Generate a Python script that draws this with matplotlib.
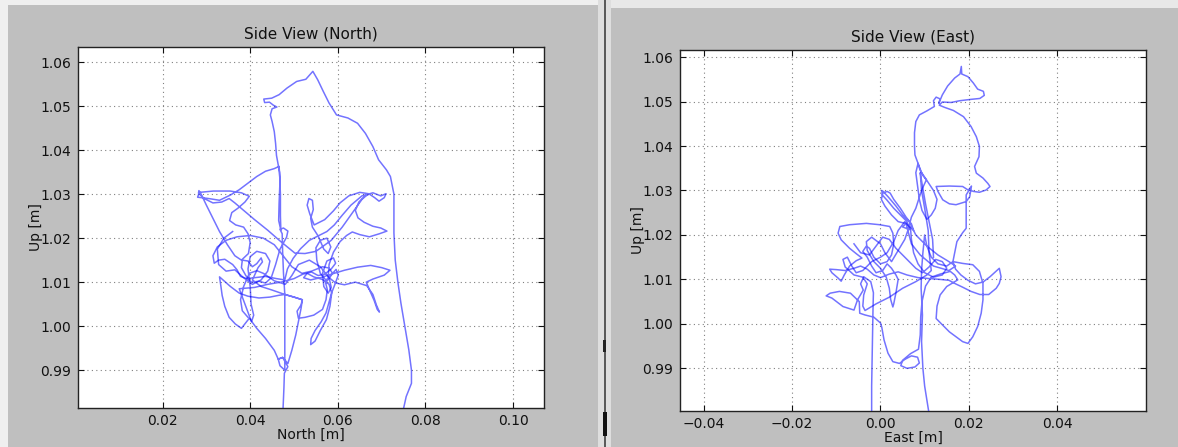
import matplotlib
matplotlib.use("Agg")
import matplotlib.pyplot as plt
from matplotlib.patches import Rectangle

# ---------------- data (millimetres) ----------------
north_mm = [
    47.5, 47.7, 47.8, 48.6, 47.4, 46.4, 46.8, 47.9, 47.9, 47.9,
    46.5, 44.5, 42.0, 39.5, 37.5, 35.5, 33.8, 33.0, 33.3, 33.6,
    34.2, 35.2, 36.6, 38.0, 39.0, 39.8, 41.5, 43.5, 45.5, 46.4,
    47.4, 48.6, 49.5, 50.4, 51.0, 51.6, 51.9, 50.0, 47.9, 47.6,
    47.4, 47.3, 46.8, 47.6, 48.6, 48.3, 46.8, 45.8, 44.8, 43.5,
    42.0, 40.2, 39.0, 38.0, 38.2, 39.5, 40.5, 41.5, 42.5, 42.8,
    41.8, 40.5, 42.5, 45.0, 47.9, 50.0, 51.9, 51.6, 50.7, 51.0,
    52.5, 54.5, 56.5, 57.3, 57.6, 57.1, 58.3, 59.6, 60.1, 59.3,
    58.6, 58.0, 57.3, 56.2, 54.8, 53.9, 53.8, 54.8, 56.0, 57.4,
    58.2, 58.6, 58.0, 56.5, 54.5, 53.0, 52.2, 53.8, 56.0, 58.5,
    61.5, 64.5, 67.5, 70.0, 71.9, 70.6, 68.0, 66.5, 67.2, 68.3,
    69.0, 69.5, 68.8, 68.0, 66.6, 64.0, 61.5, 59.5, 57.8, 58.0,
    59.0, 60.5, 62.0, 63.3, 65.0, 67.2, 69.5, 71.2, 69.8, 68.0,
    66.0, 64.6, 64.0, 64.8, 66.2, 67.2, 68.4, 69.4, 70.6, 71.0,
    69.8, 68.0, 65.5, 63.0, 61.0, 59.2, 57.5, 55.5, 53.5, 51.5,
    49.8, 48.5, 47.9, 46.0, 43.5, 41.0, 39.2, 37.8, 37.0, 36.0,
    34.2, 32.8, 31.8, 31.5, 32.5, 34.5, 37.0, 40.0, 43.0, 45.5,
    47.5, 49.5, 51.8, 54.0, 56.5, 58.0, 58.8, 57.5, 56.0, 55.2,
    55.0, 56.0, 57.5, 58.4, 57.8, 56.8, 55.5, 54.2, 53.8, 54.4,
    54.2, 53.4, 53.0, 53.6, 54.6, 57.0, 59.0, 60.5, 62.5, 65.0,
    67.0, 65.5, 63.5, 61.0, 58.5, 55.0, 52.5, 50.2, 47.0, 44.0,
    41.0, 38.5, 36.5, 35.2, 33.5, 31.5, 29.5, 28.2, 28.3, 28.8,
    30.0, 31.5, 33.0, 34.8, 36.5, 38.0, 39.6, 40.0, 39.5, 38.5,
    36.7, 35.3, 35.8, 37.2, 38.8, 39.8, 38.0, 35.4, 31.6, 28.4,
    28.0, 30.5, 33.0, 35.5, 37.5, 39.5, 41.5, 43.5, 45.5, 46.6,
    46.8, 46.6, 46.5, 47.0, 46.9, 46.9, 46.7, 46.0, 45.8, 45.5,
    45.0, 44.6, 45.0, 46.1, 45.3, 44.4, 43.3, 43.1, 44.9, 46.6,
    48.4, 50.6, 52.7, 53.6, 54.3, 55.4, 56.7, 58.0, 59.7, 62.3,
    64.5, 66.3, 68.0, 69.3, 71.1, 72.0, 72.8, 72.8, 72.8, 73.1,
    73.7, 74.4, 75.3, 76.2, 76.8, 76.8, 75.6, 75.0,
]
north_up_mm = [
    981.3, 986.0, 989.3, 990.8, 992.9, 992.5, 991.0, 990.0, 998.0, 1007.2,
    1007.0, 1006.6, 1006.4, 1006.8, 1007.5, 1009.0, 1010.5, 1011.2, 1009.2, 1007.0,
    1004.5, 1002.0, 1000.5, 999.5, 1000.8, 1001.8, 999.5, 997.2, 994.5, 992.5,
    992.9, 991.5, 994.5, 998.0, 1001.0, 1004.0, 1006.0, 1006.6, 1007.2, 1012.0,
    1017.0, 1021.0, 1022.0, 1022.3, 1021.6, 1020.2, 1017.5, 1014.0, 1011.0, 1009.8,
    1010.2, 1010.0, 1011.5, 1013.3, 1015.0, 1014.8, 1013.5, 1014.2, 1015.5, 1014.6,
    1013.3, 1010.5, 1009.0, 1008.2, 1007.2, 1006.6, 1006.0, 1004.8, 1003.4, 1001.8,
    1002.0, 1002.5, 1003.8, 1006.0, 1008.3, 1010.3, 1011.4, 1012.9, 1011.6, 1009.4,
    1007.6, 1005.5, 1003.0, 1001.0, 999.0, 997.2, 995.8, 996.6, 999.0, 1001.5,
    1004.5, 1007.5, 1009.5, 1010.6, 1011.2, 1012.0, 1011.0, 1010.5, 1011.0, 1011.8,
    1012.7, 1013.4, 1013.8, 1013.3, 1012.7, 1011.6, 1010.7, 1010.0, 1008.3, 1005.8,
    1003.8, 1003.2, 1004.8, 1007.2, 1009.2, 1010.0, 1009.4, 1009.8, 1011.2, 1014.0,
    1016.8, 1019.2, 1020.6, 1021.4, 1020.8, 1020.3, 1021.0, 1021.6, 1022.3, 1022.7,
    1023.6, 1024.6, 1026.3, 1028.2, 1029.6, 1030.0, 1029.2, 1028.4, 1029.2, 1030.1,
    1029.6, 1030.3, 1029.6, 1027.5, 1025.2, 1023.0, 1021.5, 1020.5, 1019.5, 1017.6,
    1015.4, 1013.0, 1010.5, 1010.8, 1011.3, 1011.0, 1010.8, 1011.3, 1012.8, 1014.0,
    1015.2, 1015.0, 1014.3, 1016.0, 1018.0, 1019.5, 1020.3, 1020.6, 1020.0, 1018.5,
    1016.0, 1013.5, 1012.0, 1012.5, 1013.5, 1013.2, 1012.0, 1010.2, 1012.0, 1015.0,
    1017.8, 1019.5, 1020.0, 1018.0, 1016.5, 1017.5, 1020.5, 1022.5, 1024.5, 1026.5,
    1028.6, 1029.0, 1027.5, 1025.5, 1023.0, 1024.2, 1026.2, 1028.0, 1029.6, 1030.4,
    1030.1, 1028.8, 1026.0, 1022.5, 1019.5, 1017.0, 1016.5, 1016.6, 1019.2, 1021.8,
    1024.2, 1026.3, 1028.0, 1029.0, 1028.2, 1028.0, 1029.0, 1030.2, 1030.8, 1030.0,
    1027.5, 1024.5, 1021.5, 1018.5, 1016.0, 1015.0, 1016.5, 1019.0, 1021.0, 1022.5,
    1023.0, 1024.0, 1025.8, 1026.8, 1028.2, 1029.5, 1030.3, 1030.7, 1030.7, 1030.4,
    1029.3, 1029.0, 1028.6, 1029.8, 1031.0, 1032.5, 1034.0, 1035.2, 1035.8, 1036.3,
    1033.0, 1028.0, 1024.0, 1021.8, 1025.0, 1030.0, 1035.0, 1038.8, 1041.5, 1044.2,
    1046.5, 1048.0, 1049.4, 1049.8, 1050.2, 1050.9, 1050.8, 1051.6, 1051.8, 1052.6,
    1054.1, 1055.6, 1056.1, 1057.1, 1057.9, 1056.0, 1053.3, 1050.7, 1048.0, 1047.3,
    1046.1, 1043.8, 1040.8, 1037.8, 1035.5, 1034.0, 1030.0, 1027.3, 1021.2, 1015.0,
    1010.0, 1005.2, 999.9, 994.6, 990.0, 987.0, 984.0, 981.3,
]
# a second stretch of the North trajectory through the central tangle
north_extra_mm = [
    36.0, 34.0, 32.5, 32.8, 34.5, 36.5, 38.5, 40.5, 42.5, 44.0,
    44.5, 43.5, 41.5, 40.0, 39.5, 40.0, 40.2, 40.8, 40.3, 37.5,
    41.0, 44.0, 47.0, 50.0, 52.0, 54.0, 55.5, 57.0, 58.5, 59.5,
    59.0, 57.5, 56.5, 56.8, 57.8, 58.5, 58.0, 56.0, 53.5, 51.0,
    49.5, 48.0, 45.5, 43.0, 41.5, 39.8, 38.5, 37.8, 38.2, 39.5,
]
north_extra_up_mm = [
    1021.5, 1020.0, 1017.5, 1014.0, 1012.5, 1012.8, 1011.0, 1009.5, 1010.5, 1012.5,
    1014.8, 1016.5, 1017.0, 1015.8, 1013.0, 1009.0, 1005.0, 1002.5, 1001.0, 1008.5,
    1008.8, 1009.5, 1010.0, 1010.8, 1011.8, 1012.3, 1011.5, 1011.8, 1013.0, 1014.3,
    1015.5, 1014.8, 1012.0, 1009.0, 1007.5, 1008.8, 1011.0, 1013.5, 1015.0, 1014.0,
    1011.5, 1009.5, 1010.3, 1012.0, 1012.6, 1012.0, 1009.0, 1006.0, 1003.5, 1002.0,
]

east_mm = [
    -2.0, -2.0, -1.9, -1.8, -1.7, -1.6, -2.2, -3.8, -4.5, -3.9,
    -5.2, -6.0, -8.5, -11.0, -12.3, -11.4, -9.3, -6.8, -4.8, -4.7,
    -3.5, -1.5, 0.0, 0.3, 0.8, 1.7, 2.8, 4.3, 5.5, 7.0,
    8.4, 8.8, 7.8, 6.0, 4.6, 5.0, 6.8, 8.6, 9.0, 9.1,
    9.4, 10.2, 11.5, 13.5, 15.8, 16.8, 17.5, 16.5, 15.0, 13.5,
    12.8, 12.6, 14.1, 15.6, 17.1, 18.6, 19.8, 20.9, 22.0, 22.8,
    23.2, 23.2, 22.4, 20.9, 18.6, 16.4, 17.0, 18.2, 19.8, 21.5,
    23.2, 24.8, 26.9, 27.3, 26.9, 26.2, 24.5, 22.5, 20.5, 18.5,
    17.0, 15.5, 13.5, 11.0, 8.5, 6.0, 4.0, 2.0, 0.0, -1.5,
    -3.0, -4.5, -6.0, -8.0, -10.0, -11.5, -11.0, -9.6, -8.9, -8.2,
    -7.0, -5.5, -4.2, -5.5, -7.0, -8.9, -9.6, -9.2, -7.0, -3.2,
    -0.2, 2.1, 2.8, 3.0, 2.5, 1.5, 0.0, -1.5, -2.5, -3.2,
    -4.0, -3.0, -2.0, -1.0, 0.5, 1.5, 2.5, 3.5, 4.0, 3.5,
    3.0, 2.8, 2.3, 2.0, 1.3, 0.0, -1.5, -3.0, -3.2, -2.0,
    0.0, 1.0, 2.5, 4.0, 5.5, 6.2, 5.8, 5.0, 6.6, 6.0,
    4.5, 3.0, 1.5, 0.4, 0.3, 0.8, 1.5, 2.2, 3.0, 4.5,
    5.8, 7.0, 7.5, 6.0, 4.0, 2.5, 1.0, 0.2, 0.6, 1.8,
    3.5, 5.0, 6.5, 8.0, 10.5, 13.0, 15.5, 17.0, 15.5, 12.0,
    9.0, 7.0, 6.2, 7.0, 8.0, 8.8, 9.5, 10.4, 9.5, 8.5,
    8.0, 8.4, 8.8, 9.4, 10.5, 11.5, 12.4, 12.8, 12.0, 11.0,
    10.4, 9.0, 8.5, 7.8, 7.7, 7.7, 8.0, 8.8, 10.5, 12.2,
    12.0, 12.6, 13.5, 13.2, 14.0, 15.2, 16.8, 18.0, 18.3, 18.4,
    19.8, 21.0, 22.0, 23.3, 23.5, 22.5, 20.5, 18.0, 16.0, 14.0,
    13.3, 14.5, 16.5, 18.8, 20.5, 21.7, 22.4, 22.3, 21.3, 21.7,
    23.2, 24.3, 24.8, 23.9, 22.4, 21.0, 20.0, 20.6, 20.2, 19.4,
    17.1, 15.6, 14.1, 13.0, 12.6, 15.6, 18.6, 20.0, 19.4, 19.4,
    19.4, 18.6, 17.3, 16.8, 16.4, 15.0, 13.0, 11.5, 10.5, 10.0,
    9.6, 9.3, 9.2, 9.5, 9.3, 9.6, 10.0, 10.9,
]
east_up_mm = [
    980.5, 986.0, 992.0, 998.0, 1003.0, 1007.0, 1009.5, 1010.6, 1009.0, 1007.6,
    1005.4, 1003.1, 1003.9, 1005.8, 1006.3, 1006.9, 1007.3, 1006.9, 1005.0, 1002.4,
    1002.0, 1001.5, 1000.2, 999.2, 996.4, 993.4, 991.5, 991.1, 992.0, 992.8,
    992.5, 991.2, 990.3, 990.0, 990.6, 991.8, 993.3, 994.3, 997.5, 1001.5,
    1005.0, 1008.5, 1010.5, 1011.2, 1011.8, 1011.0, 1009.9, 1009.3, 1008.4, 1006.5,
    1004.0, 1001.2, 999.7, 998.2, 997.1, 996.0, 995.6, 997.1, 999.4, 1002.4,
    1005.4, 1009.1, 1011.8, 1013.3, 1013.6, 1014.0, 1012.3, 1011.0, 1009.8, 1009.0,
    1009.4, 1010.6, 1012.5, 1010.6, 1009.1, 1008.0, 1006.6, 1006.6, 1007.3, 1008.3,
    1009.0, 1009.8, 1010.0, 1010.2, 1010.4, 1011.0, 1011.7, 1011.2, 1010.4, 1011.0,
    1012.3, 1013.0, 1012.5, 1012.0, 1012.2, 1012.3, 1011.5, 1010.3, 1009.6, 1011.0,
    1013.0, 1014.2, 1014.8, 1015.8, 1017.0, 1018.9, 1020.4, 1021.9, 1022.3, 1022.6,
    1022.3, 1021.9, 1020.4, 1018.0, 1015.5, 1014.0, 1013.5, 1015.0, 1017.0, 1017.5,
    1016.3, 1015.0, 1013.0, 1011.5, 1012.0, 1013.5, 1012.5, 1011.0, 1010.0, 1007.0,
    1004.5, 1003.8, 1005.5, 1008.0, 1010.5, 1012.5, 1014.0, 1016.5, 1018.5, 1019.5,
    1018.0, 1016.0, 1014.0, 1016.5, 1019.0, 1021.0, 1022.6, 1021.8, 1021.2, 1023.0,
    1024.5, 1026.0, 1027.8, 1029.0, 1030.0, 1029.5, 1029.8, 1029.4, 1028.0, 1026.0,
    1024.0, 1022.5, 1021.0, 1022.5, 1023.0, 1024.5, 1026.5, 1028.0, 1029.8, 1028.5,
    1026.5, 1024.5, 1023.0, 1020.0, 1017.5, 1015.5, 1014.0, 1013.0, 1012.0, 1013.0,
    1015.5, 1018.0, 1021.0, 1024.0, 1026.0, 1028.5, 1030.5, 1032.4, 1033.5, 1036.1,
    1034.0, 1031.0, 1028.0, 1025.5, 1023.5, 1024.5, 1026.0, 1028.0, 1030.0, 1031.5,
    1032.4, 1034.5, 1036.1, 1038.0, 1040.0, 1043.0, 1045.5, 1047.0, 1047.9, 1048.9,
    1050.2, 1051.0, 1050.6, 1049.6, 1051.5, 1053.5, 1055.3, 1056.2, 1057.9, 1056.2,
    1055.6, 1054.2, 1052.8, 1052.3, 1051.4, 1050.7, 1050.5, 1050.2, 1049.8, 1049.9,
    1049.2, 1048.7, 1048.0, 1046.6, 1044.4, 1042.1, 1039.9, 1037.6, 1035.4, 1033.9,
    1032.8, 1031.6, 1030.9, 1030.1, 1029.6, 1029.8, 1030.2, 1031.0, 1028.6, 1027.5,
    1026.8, 1027.0, 1027.9, 1029.8, 1030.9, 1031.0, 1030.9, 1030.0, 1029.0, 1025.0,
    1021.5, 1020.5, 1018.5, 1016.0, 1014.0, 1013.0, 1013.5, 1015.0, 1017.5, 1020.0,
    1016.0, 1012.0, 1008.0, 1002.0, 996.0, 990.0, 986.0, 980.4,
]
# a second stretch of the East trajectory through the central tangle
east_extra_mm = [
    -6.0, -4.5, -2.5, -1.0, 0.5, 2.0, 3.5, 5.0, 6.5, 8.0,
    9.5, 11.0, 12.5, 14.0, 15.0, 14.0, 12.0, 10.0, 8.5, 7.5,
    7.0, 6.8, 5.5, 4.0, 3.0, 1.5, 0.0, -2.0, -4.0, -5.5,
    -6.5, -7.5, -8.5, -8.0, -6.0, -4.0, -3.0, -3.8, -4.0, -3.5,
    -1.0, 2.0, 5.0, 8.0, 10.5, 11.5, 11.0, 10.8, 10.0, 9.3,
    9.0, 9.5, 10.2, 11.0, 11.8, 12.0,
]
east_extra_up_mm = [
    1018.0, 1016.0, 1015.5, 1017.5, 1019.5, 1019.0, 1017.0, 1015.5, 1014.0, 1012.5,
    1011.5, 1012.8, 1014.5, 1014.0, 1012.5, 1011.0, 1010.5, 1011.5, 1013.5, 1016.0,
    1019.0, 1021.5, 1023.0, 1021.0, 1018.5, 1016.0, 1015.0, 1014.0, 1012.0, 1011.5,
    1013.0, 1015.0, 1014.5, 1012.8, 1011.0, 1010.5, 1009.0, 1006.5, 1004.0, 1003.0,
    1004.5, 1006.0, 1008.0, 1009.5, 1011.0, 1012.0, 1016.0, 1021.0, 1026.0, 1030.0,
    1034.0, 1031.0, 1027.0, 1023.0, 1019.0, 1015.0,
]

north_ticks = [0.02, 0.04, 0.06, 0.08, 0.10]
north_ticklabels = ["0.02", "0.04", "0.06", "0.08", "0.10"]
east_ticks = [-0.04, -0.02, 0.00, 0.02, 0.04]
east_ticklabels = ["\u22120.04", "\u22120.02", "0.00", "0.02", "0.04"]
up_ticks = [0.99, 1.00, 1.01, 1.02, 1.03, 1.04, 1.05, 1.06]
up_ticklabels = ["0.99", "1.00", "1.01", "1.02", "1.03", "1.04", "1.05", "1.06"]

titles = ["Side View (North)", "Side View (East)"]
xlabels = ["North [m]", "East [m]"]
ylabel = "Up [m]"

# ---------------- figure ----------------
W, H = 1178, 447
plt.rcParams["font.family"] = ["DejaVu Sans"]
fig = plt.figure(figsize=(W / 100, H / 100), dpi=100, facecolor="#bfbfbf")


def px_rect(x0, y0, x1, y1, color):
    fig.patches.append(Rectangle((x0 / W, 1 - y1 / H), (x1 - x0) / W, (y1 - y0) / H,
                                 transform=fig.transFigure, facecolor=color,
                                 edgecolor="none", zorder=0))


# window chrome around the two screenshots
px_rect(0, 0, W, 5, "#efefef")
px_rect(0, 0, 8, H, "#efefef")
px_rect(598, 0, 611, H, "#dedede")
px_rect(604, 0, 606, H, "#5a5a5a")
px_rect(611, 0, W, 8, "#e8e8e8")
px_rect(603, 340, 606, 352, "#222222")
px_rect(603, 412, 607, 436, "#111111")


def ax_at(x0, y0, x1, y1):
    return fig.add_axes([x0 / W, 1 - y1 / H, (x1 - x0) / W, (y1 - y0) / H])


axL = ax_at(78.4, 46.7, 543.8, 408.0)
axR = ax_at(680.4, 50.0, 1145.5, 411.0)

series = [
    [(north_mm, north_up_mm), (north_extra_mm, north_extra_up_mm)],
    [(east_mm, east_up_mm), (east_extra_mm, east_extra_up_mm)],
]
xlims = [(0.0008, 0.1070), (-0.0453, 0.0600)]
ylims = [(0.9814, 1.0635), (0.9804, 1.0616)]
xt = [(north_ticks, north_ticklabels), (east_ticks, east_ticklabels)]

for i, ax in enumerate([axL, axR]):
    ax.set_facecolor("white")
    for xv, yv in series[i]:
        ax.plot([v / 1000 for v in xv], [v / 1000 for v in yv],
                color="#0000ff", lw=1.1, alpha=0.55, zorder=3)
    ax.set_xlim(*xlims[i])
    ax.set_ylim(*ylims[i])
    ax.set_xticks(xt[i][0])
    ax.set_xticklabels(xt[i][1])
    ax.set_yticks(up_ticks)
    ax.set_yticklabels(up_ticklabels)
    ax.grid(True, color="#808080", linestyle=(0, (1, 3)), linewidth=0.8)
    ax.tick_params(direction="in", length=4, top=True, right=True,
                   labelsize=10, colors="#111111")
    ax.tick_params(axis="x", pad=4)
    ax.tick_params(axis="y", pad=5)
    for s in ax.spines.values():
        s.set_linewidth(1.0)
        s.set_color("#222222")
    ax.set_title(titles[i], fontsize=11, pad=6, color="#111111")
    ax.set_xlabel(xlabels[i], fontsize=10, labelpad=0, color="#111111")
    ax.set_ylabel(ylabel, fontsize=10, labelpad=-2, color="#111111")

fig.savefig("out.png", dpi=100, facecolor=fig.get_facecolor())
